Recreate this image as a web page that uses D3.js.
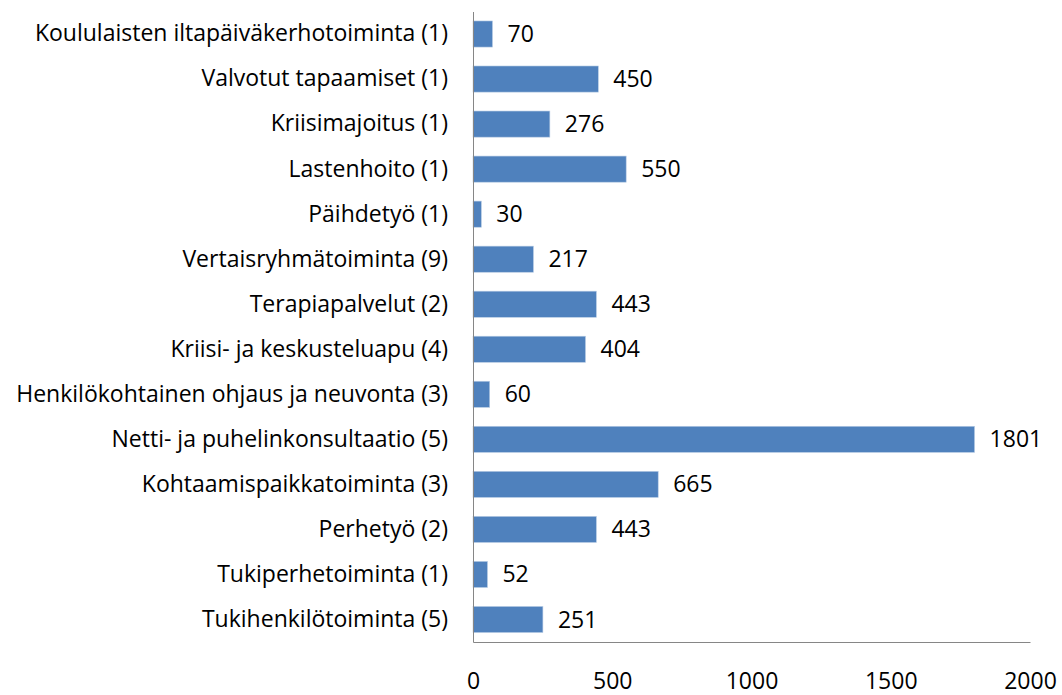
<!DOCTYPE html>
<html>
<head>
<meta charset="utf-8">
<script src="https://cdn.jsdelivr.net/npm/d3@7"></script>
<style>
  body { margin: 0; background: #fff; }
  svg text { font-family: "Open Sans", sans-serif; fill: #000; }
</style>
</head>
<body>
<div id="chart"></div>
<script>
// Categories (top to bottom) and their values
const categories = [
    "Koululaisten iltapäiväkerhotoiminta (1)",
    "Valvotut tapaamiset (1)",
    "Kriisimajoitus (1)",
    "Lastenhoito (1)",
    "Päihdetyö  (1)",
    "Vertaisryhmätoiminta (9)",
    "Terapiapalvelut (2)",
    "Kriisi- ja keskusteluapu (4)",
    "Henkilökohtainen ohjaus ja neuvonta (3)",
    "Netti- ja puhelinkonsultaatio (5)",
    "Kohtaamispaikkatoiminta (3)",
    "Perhetyö (2)",
    "Tukiperhetoiminta (1)",
    "Tukihenkilötoiminta (5)"
]
const values = [70, 450, 276, 550, 30, 217, 443, 404, 60, 1801, 665, 443, 52, 251]
const xTicks = [0, 500, 1000, 1500, 2000]

const data = categories.map((c, i) => ({ category: c, value: values[i] }))

// Dimensions
const dimensions = {
    width: 1062,
    height: 695,
    margins: { top: 11.5, right: 32, left: 473, bottom: 53 }
}
dimensions.boundedWidth = dimensions.width - dimensions.margins.left - dimensions.margins.right
dimensions.boundedHeight = dimensions.height - dimensions.margins.top - dimensions.margins.bottom

const wrapper = d3.select("#chart").append("svg")
    .attr("width", dimensions.width)
    .attr("height", dimensions.height)

const bounds = wrapper.append("g")
    .attr("transform", `translate(${dimensions.margins.left}, ${dimensions.margins.top})`)

// Scales
const xScale = d3.scaleLinear()
    .domain([0, 2000])
    .range([0, dimensions.boundedWidth])

const yScale = d3.scaleBand()
    .domain(categories)
    .range([0, dimensions.boundedHeight])
    .paddingInner(0.42)
    .paddingOuter(0.21)

const fontSize = "23px"

// Bars
bounds.selectAll("rect.bar")
    .data(data)
    .join("rect")
    .attr("class", "bar")
    .attr("x", 0)
    .attr("y", d => yScale(d.category))
    .attr("width", d => xScale(d.value))
    .attr("height", yScale.bandwidth())
    .attr("fill", "#4f81bd")
    .attr("stroke", "#b9cde5")
    .attr("stroke-width", 0.6)

// Value labels
bounds.selectAll("text.value")
    .data(data)
    .join("text")
    .attr("class", "value")
    .attr("x", d => xScale(d.value) + 15)
    .attr("y", d => yScale(d.category) + yScale.bandwidth() / 2)
    .attr("dy", "0.35em")
    .style("font-size", fontSize)
    .text(d => d.value)

// Y axis (category labels)
const yAxis = bounds.append("g")
    .call(d3.axisLeft(yScale).tickSize(0).tickPadding(25))
yAxis.select(".domain").attr("stroke", "#868686")
yAxis.selectAll("text").style("font-size", fontSize)

// X axis
const xAxis = bounds.append("g")
    .attr("transform", `translate(0, ${dimensions.boundedHeight})`)
    .call(d3.axisBottom(xScale).tickValues(xTicks).tickFormat(d3.format("d")).tickSize(0).tickPadding(31))
xAxis.select(".domain").attr("stroke", "#868686")
xAxis.selectAll("text").style("font-size", fontSize)
</script>
</body>
</html>
